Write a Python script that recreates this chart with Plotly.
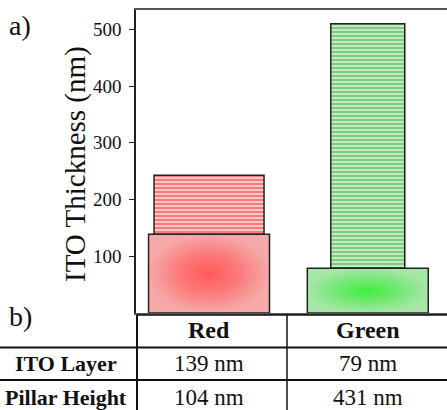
import plotly.graph_objects as go

# ---- data ----
categories = ["Red", "Green"]
ito_layer = [139, 79]          # nm
pillar_height = [104, 431]     # nm
row_labels = ["ITO Layer", "Pillar Height"]
y_ticks = [100, 200, 300, 400, 500]
y_title = "ITO Thickness (nm)"

# ---- styles ----
ito_width = 0.762
pillar_widths = [0.693, 0.466]
ito_scales = [
    [[0, "#ff5a5a"], [0.45, "#fc7676"], [1, "#f5a8a8"]],
    [[0, "#40ee40"], [0.45, "#6ee86e"], [1, "#a6e6a6"]],
]
pillar_bg = ["#fcc6c6", "#c6e8c6"]
pillar_fg = ["#f04a4a", "#48bc48"]
edge = "#222222"
FONT = "Liberation Serif"
TXT = "#111111"

W, H = 447, 410
def px(x):
    return x / W
def py(y):
    return 1 - y / H

fig = go.Figure()
pos = list(range(len(categories)))

# ITO layers (radial gradient fill)
for i, c in enumerate(categories):
    p = pos[i]
    x0, x1 = p - ito_width / 2, p + ito_width / 2
    fig.add_trace(go.Scatter(
        x=[x0, x1, x1, x0, x0], y=[0, 0, ito_layer[i], ito_layer[i], 0],
        mode="lines", fill="toself",
        fillgradient=dict(type="radial", colorscale=ito_scales[i]),
        line=dict(color=edge, width=1.5), showlegend=False, hoverinfo="skip"))

# Pillars (striped)
for i, c in enumerate(categories):
    fig.add_trace(go.Bar(
        x=[pos[i]], y=[pillar_height[i]], base=[ito_layer[i]],
        width=pillar_widths[i],
        marker=dict(color=pillar_bg[i],
                    line=dict(color=edge, width=1.5),
                    pattern=dict(shape="-", size=4, solidity=0.3,
                                 fgcolor=pillar_fg[i], bgcolor=pillar_bg[i],
                                 fillmode="replace")),
        showlegend=False))

fig.update_layout(
    width=W, height=H, margin=dict(l=0, r=0, t=0, b=0),
    paper_bgcolor="white", plot_bgcolor="white",
    barmode="overlay", showlegend=False,
    font=dict(family=FONT, color=TXT),
    xaxis=dict(domain=[136 / W, 1], range=[-0.46, 1.499], showgrid=False,
               zeroline=False, showticklabels=False, ticks="",
               showline=True, mirror=True, linecolor="#555555", linewidth=1.5),
    yaxis=dict(domain=[py(313), py(10)], range=[0, 534.2], showgrid=False,
               zeroline=False, tickvals=y_ticks, ticks="outside", ticklen=5,
               tickcolor="#222222", tickfont=dict(size=19, family=FONT, color=TXT),
               ticklabelstandoff=4,
               showline=True, linecolor="#222222", linewidth=1.5),
)

def text(x, y, s, size, angle=0):
    fig.add_annotation(xref="paper", yref="paper", x=px(x), y=py(y), text=s,
                       xanchor="center", yanchor="middle", textangle=angle,
                       showarrow=False, font=dict(size=size, family=FONT, color=TXT))

text(75, 164, y_title, 29, -90)

# ---- table lines ----
def line(x0, y0, x1, y1, w=1.5, color="#111111"):
    fig.add_shape(type="line", xref="paper", yref="paper",
                  x0=px(x0), y0=py(y0), x1=px(x1), y1=py(y1),
                  line=dict(color=color, width=w))

line(137, 315, W, 315, 1.5)
line(0, 347.5, W, 347.5, 2)
line(0, 380, W, 380, 2)
line(137, 315, 137, 410, 2)
line(287, 315, 287, 410, 1.5)

# ---- table text ----
col_x = [209, 367.5]
row_y = [363, 397]
for j, c in enumerate(categories):
    text(col_x[j], 330, "<b>%s</b>" % c, 24)
for r, lab in enumerate(row_labels):
    text(66, row_y[r], "<b>%s</b>" % lab, 22)
values = [ito_layer, pillar_height]
for r in range(2):
    for j in range(len(categories)):
        text(col_x[j], row_y[r], "%d nm" % values[r][j], 23)

text(20, 25, "a)", 28)
text(20, 316, "b)", 28)

fig.write_html("out.html", config={"displayModeBar": False},
               post_script="document.body.style.margin='0';")
